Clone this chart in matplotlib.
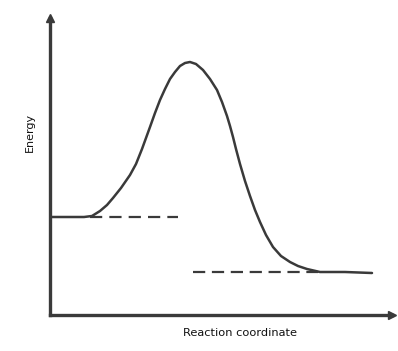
import numpy as np
import matplotlib.pyplot as plt

# energy profile (x: reaction coordinate, y: energy, arbitrary units)
curve_x = [0, 20, 34, 42, 50, 57, 63, 71, 80, 86, 92, 96, 100, 105, 110, 115, 120, 125, 130, 135,
           140, 146, 153, 160, 167, 172, 177, 180, 183, 186, 190, 195, 200, 205, 210, 216, 223, 231,
           240, 248, 257, 270, 295, 322]
curve_y = [98, 98, 98, 99, 104, 110, 117, 127, 140, 151, 166, 177, 188, 202, 215, 226, 236, 243,
           249, 252, 253, 251, 245, 236, 225, 213, 199, 189, 178, 166, 151, 134, 119, 105, 93, 80,
           68, 59, 53, 49, 46, 43, 43, 42]
reactant_level = 98
product_level = 43
reactant_dash = [40, 128]
product_dash = [143, 268]

fig = plt.figure(figsize=(3.98, 3.51), dpi=100)
ax = fig.add_axes([50 / 398, 36 / 351, 342 / 398, 297 / 351])
ax.set_xlim(0, 342)
ax.set_ylim(0, 297)

ax.plot(curve_x, curve_y, color="#3a3a3a", linewidth=1.8, solid_capstyle="round",
        solid_joinstyle="round")
ax.plot(reactant_dash, [reactant_level] * 2, color="#3a3a3a", linewidth=1.6,
        linestyle=(0, (5.5, 3.2)))
ax.plot(product_dash, [product_level] * 2, color="#3a3a3a", linewidth=1.6,
        linestyle=(0, (5.5, 3.0)))

for side in ["top", "right"]:
    ax.spines[side].set_visible(False)
for side in ["left", "bottom"]:
    ax.spines[side].set_linewidth(2.4)
    ax.spines[side].set_color("#3a3a3a")
ax.set_xticks([])
ax.set_yticks([])

# arrow heads on the axes
ax.plot(1, 0, ">", transform=ax.transAxes, clip_on=False, color="#3a3a3a", markersize=5.5)
ax.plot(0, 1, "^", transform=ax.transAxes, clip_on=False, color="#3a3a3a", markersize=5.5)

fig.text(30 / 398, 1 - 132 / 351, "Energy", rotation=90, ha="center", va="center",
         fontsize=8, color="#111111")
fig.text(240 / 398, 1 - 333 / 351, "Reaction coordinate", ha="center", va="center",
         fontsize=8.2, color="#111111")

fig.savefig("out.png", dpi=100)
